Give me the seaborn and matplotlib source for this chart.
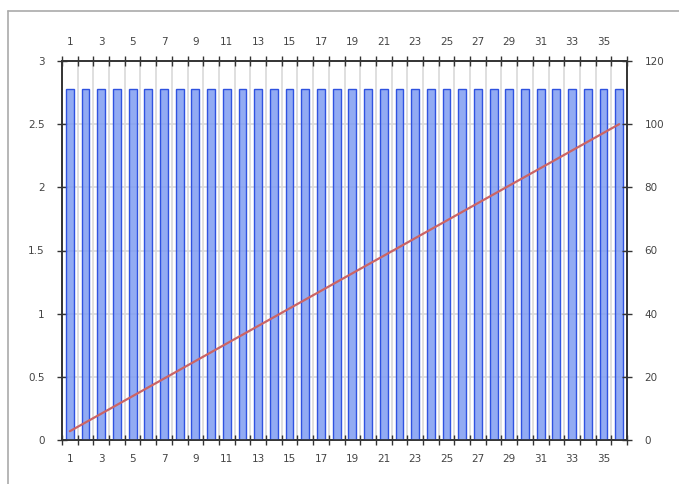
import matplotlib
matplotlib.use("Agg")
import matplotlib.pyplot as plt
import seaborn as sns
import pandas as pd
from matplotlib.lines import Line2D
from matplotlib.ticker import FixedLocator
from matplotlib.colors import to_rgba

categories = [str(i) for i in range(1, 37)]
bar_values = [2.78] * 36
line_values = [2.78, 5.56, 8.33, 11.11, 13.89, 16.67, 19.44, 22.22, 25.00,
               27.78, 30.56, 33.33, 36.11, 38.89, 41.67, 44.44, 47.22, 50.00,
               52.78, 55.56, 58.33, 61.11, 63.89, 66.67, 69.44, 72.22, 75.00,
               77.78, 80.56, 83.33, 86.11, 88.89, 91.67, 94.44, 97.22, 100.00]

df = pd.DataFrame({"cat": categories, "bar": bar_values, "line": line_values})

sns.set_style("white")
plt.rcParams['font.family'] = ['DejaVu Sans']

fig = plt.figure(figsize=(6.79, 4.84), dpi=100)
ax = fig.add_axes([62/679, 1-440/484, (627-62)/679, (440-61)/484])

sns.barplot(data=df, x="cat", y="bar", ax=ax, width=0.5,
            color="#7f9cf2", edgecolor="#2f52e0", linewidth=1.0,
            saturation=1, zorder=3)
for p in ax.patches:
    p.set_facecolor(to_rgba("#7f9cf2", 0.85))
    p.set_edgecolor("#2f52e0")

ax2 = ax.twinx()
x_pos = list(range(len(categories)))
sns.lineplot(x=x_pos, y=df["line"].values, ax=ax2, color="#cc6464",
             linewidth=1.6, zorder=4)

ax.set_xlim(-0.5, len(categories) - 0.5)
ax.set_ylim(0, 3)
ax2.set_ylim(0, 120)
ax.set_xlabel("")
ax.set_ylabel("")
ax2.set_xlabel("")
ax2.set_ylabel("")

ax.xaxis.set_major_locator(FixedLocator(list(range(0, 36, 2))))
ax.set_xticklabels(categories[0::2])
ax.xaxis.set_minor_locator(FixedLocator([i - 0.5 for i in range(37)]))
ax.tick_params(axis="x", which="major", length=0, pad=10,
               labelsize=7.5, labelcolor="#444444", top=True, labeltop=True)
ax.tick_params(axis="x", which="minor", length=7, width=1, direction="inout",
               color="#333333", top=True, bottom=True)
ax.set_yticks([0, 0.5, 1, 1.5, 2, 2.5, 3])
ax.set_yticklabels(["0", "0.5", "1", "1.5", "2", "2.5", "3"])
ax.tick_params(axis="y", which="major", length=7, width=1, direction="inout",
               color="#333333", labelsize=7.5, labelcolor="#444444", pad=9)
ax2.set_yticks([0, 20, 40, 60, 80, 100, 120])
ax2.tick_params(axis="y", which="major", length=7, width=1, direction="inout",
                color="#333333", labelsize=7.5, labelcolor="#444444", pad=9)

ax.grid(True, axis="y", which="major", color="#d9d9d9", linewidth=1.2, zorder=0)
ax.grid(True, axis="x", which="minor", color="#d9d9d9", linewidth=1.2, zorder=0)
ax.grid(False, axis="x", which="major")
ax.set_axisbelow(True)

for a in (ax, ax2):
    for s in a.spines.values():
        s.set_color("#333333")
        s.set_linewidth(1.2)
        s.set_visible(True)

fig.add_artist(Line2D([8/679, 8/679], [0, 1-11/484], transform=fig.transFigure,
                      color="#aaaaaa", linewidth=1.2))
fig.add_artist(Line2D([8/679, 1], [1-11/484, 1-11/484], transform=fig.transFigure,
                      color="#aaaaaa", linewidth=1.2))

fig.savefig("out.png", dpi=100)
